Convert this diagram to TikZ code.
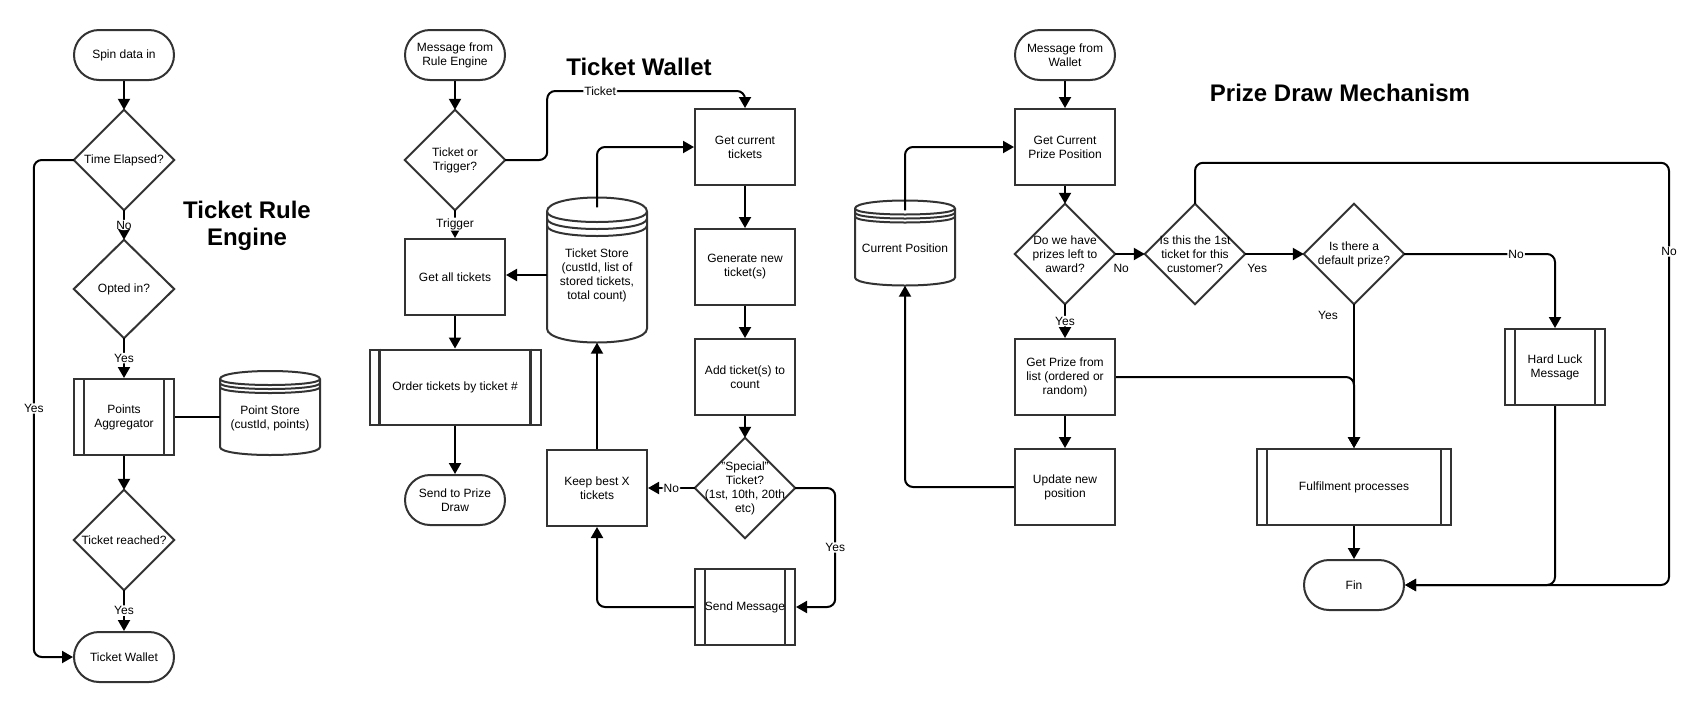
\documentclass[tikz,border=0pt]{standalone}
\usepackage{fontspec}
\setmainfont{Liberation Sans}
\usetikzlibrary{arrows.meta}

\newcommand{\dstore}[7]{% name, cx, cy, w, h, dy, text
  \begin{scope}[shift={(#2-#4/2,#3-#5/2)}]
    \draw[shapeline] (0,#6) .. controls (0,-#6/3) and (#4,-#6/3) .. (#4,#6) -- (#4,#5-#6) .. controls (#4,#5+#6/3) and (0,#5+#6/3) .. (0,#5-#6) -- cycle;
    \foreach \dsoff in {0,0.5,1} {
      \draw[shapeline] (0,#6+\dsoff*#6) .. controls (0,2*#6+\dsoff*#6) and (#4,2*#6+\dsoff*#6) .. (#4,#6+\dsoff*#6);
    }
  \end{scope}
  \node[rectangle, inner sep=0pt, minimum width=#4 pt, minimum height=#5 pt - 10pt] (#1) at (#2,#3+5) {#7};
}

\begin{document}
\begin{tikzpicture}[x=1pt,y=-1pt,
  every node/.style={font=\fontsize{12pt}{14pt}\selectfont, align=center, text=black},
  shapeline/.style={draw=black!80, line width=2pt},
  box/.style={shapeline, rectangle, minimum width=100pt, minimum height=76pt, inner sep=0pt},
  term/.style={box, rounded corners=25pt, minimum height=50pt},
  proc/.style={box, append after command={\pgfextra{
      \draw[shapeline, line width=2.2pt] ([xshift=11pt]\tikzlastnode.north west) -- ([xshift=11pt]\tikzlastnode.south west);
      \draw[shapeline, line width=2.2pt] ([xshift=-11pt]\tikzlastnode.north east) -- ([xshift=-11pt]\tikzlastnode.south east);}}},
  diam/.style={rectangle, minimum width=100pt, minimum height=100pt, inner sep=0pt,
      append after command={\pgfextra{\draw[shapeline, line join=miter] (\tikzlastnode.north) -- (\tikzlastnode.east) -- (\tikzlastnode.south) -- (\tikzlastnode.west) -- cycle;}}},
  conn/.style={draw=black, line width=2pt, rounded corners=8pt, -{Triangle[length=11pt,width=12pt]}},
  plainconn/.style={draw=black, line width=2pt},
  lbl/.style={fill=white, inner sep=1pt},
  title/.style={font=\fontsize{24pt}{27pt}\selectfont\bfseries}
]
\fill[white] (0,0) rectangle (1696,702);

% ---------------- Ticket Rule Engine ----------------
\node[term] (spin) at (124,55) {Spin data in};
\node[diam] (te) at (124,160) {Time Elapsed?};
\node[diam, minimum height=98pt] (opt) at (124,289) {Opted in?};
\node[proc] (pa) at (124,417) {Points\\Aggregator};
\dstore{ps}{270}{413}{100}{84}{8}{Point Store\\(custId, points)}
\node[diam] (tr) at (124,540) {Ticket reached?};
\node[term] (tw) at (124,657) {Ticket Wallet};
\node[title] (t1) at (247,225.5) {Ticket Rule\\Engine};

\draw[conn] (spin.south) -- (te.north);
\draw[conn] (te.south) -- node[lbl]{No} (opt.north);
\draw[conn] (opt.south) -- node[lbl]{Yes} (pa.north);
\draw[plainconn] (pa.east) -- (pa.east -| ps.west);
\draw[conn] (pa.south) -- (tr.north);
\draw[conn] (tr.south) -- node[lbl]{Yes} (tw.north);
\draw[conn] (te.west) -- ++(-40,0) |- node[lbl,pos=0.25]{Yes} (tw.west);

% ---------------- Ticket Wallet ----------------
\node[term] (mre) at (455,55) {Message from\\Rule Engine};
\node[diam] (tot) at (455,160) {Ticket or\\Trigger?};
\node[box] (gat) at (455,277) {Get all tickets};
\node[proc, minimum width=171pt, minimum height=75pt] (ord) at (455,387) {Order tickets by ticket \#};
\node[term] (stp) at (455,500) {Send to Prize\\Draw};
\dstore{ts}{597}{270}{100}{145}{14}{Ticket Store\\(custId, list of\\stored tickets,\\total count)}
\node[box] (gct) at (745,147) {Get current\\tickets};
\node[box] (gnt) at (745,267) {Generate new\\ticket(s)};
\node[box] (atc) at (745,377) {Add ticket(s) to\\count};
\node[diam] (spc) at (745,488) {"Special"\\Ticket?\\(1st, 10th, 20th\\etc)};
\node[box] (kbx) at (597,488) {Keep best X\\tickets};
\node[proc] (smg) at (745,607) {Send Message};
\node[title] (t2) at (639,67) {Ticket Wallet};

\draw[conn] (mre.south) -- (tot.north);
\draw[conn] (tot.south) -- node[lbl]{Trigger} (gat.north);
\draw[conn] (tot.east) -- ++(42,0) -- ++(0,-69) -| node[lbl,pos=0.134]{Ticket} (gct.north);
\draw[conn] (ts.west) -- (ts.west -| gat.east);
\draw[conn] (ts.north) |- (gct.west);
\draw[conn] (gct.south) -- (gnt.north);
\draw[conn] (gnt.south) -- (atc.north);
\draw[conn] (atc.south) -- (spc.north);
\draw[conn] (spc.west) -- node[lbl]{No} (kbx.east);
\draw[conn] (kbx.north) -- (ts.south);
\draw[conn] (spc.east) -- ++(40,0) |- node[lbl,pos=0.25]{Yes} (smg.east);
\draw[conn] (smg.west) -| (kbx.south);
\draw[conn] (gat.south) -- (ord.north);
\draw[conn] (ord.south) -- (stp.north);

% ---------------- Prize Draw Mechanism ----------------
\node[term] (mfw) at (1065,55) {Message from\\Wallet};
\node[box] (gcp) at (1065,147) {Get Current\\Prize Position};
\node[diam] (dwh) at (1065,254) {Do we have\\prizes left to\\award?};
\dstore{cp}{905}{243}{100}{85}{8}{Current Position}
\node[diam] (i1t) at (1195,254) {Is this the 1st\\ticket for this\\customer?};
\node[diam] (dft) at (1354,254) {Is there a\\default prize?};
\node[box] (gpl) at (1065,377) {Get Prize from\\list (ordered or\\random)};
\node[box] (upd) at (1065,487) {Update new\\position};
\node[proc, minimum width=194pt] (fpr) at (1354,487) {Fulfilment processes};
\node[term] (fin) at (1354,585) {Fin};
\node[proc] (hlm) at (1555,367) {Hard Luck\\Message};
\node[title] (t3) at (1340,93) {Prize Draw Mechanism};

\draw[conn] (mfw.south) -- (gcp.north);
\draw[conn] (gcp.south) -- (dwh.north);
\draw[conn] (cp.north) |- (gcp.west);
\draw[conn] (dwh.east) -- node[at start, xshift=6pt, yshift=-14pt]{No} (i1t.west);
\draw[conn] (i1t.east) -- node[at start, xshift=12pt, yshift=-14pt]{Yes} (dft.west);
\draw[conn] (dft.south) -- node[at start, xshift=-26pt, yshift=-11pt]{Yes} (fpr.north);
\draw[conn] (dwh.south) -- node[lbl]{Yes} (gpl.north);
\draw[conn] (gpl.south) -- (upd.north);
\draw[conn] (upd.west) -| (cp.south);
\draw[conn] (gpl.east) -| (fpr.north);
\draw[conn] (dft.east) -| node[lbl,pos=0.371]{No} (hlm.north);
\draw[conn] (fpr.south) -- (fin.north);
\draw[conn] (hlm.south) |- (fin.east);
\draw[conn] (i1t.north) -- ++(0,-41) -- ++(474,0) |- node[lbl,pos=0.105]{No} (fin.east);
\end{tikzpicture}
\end{document}
